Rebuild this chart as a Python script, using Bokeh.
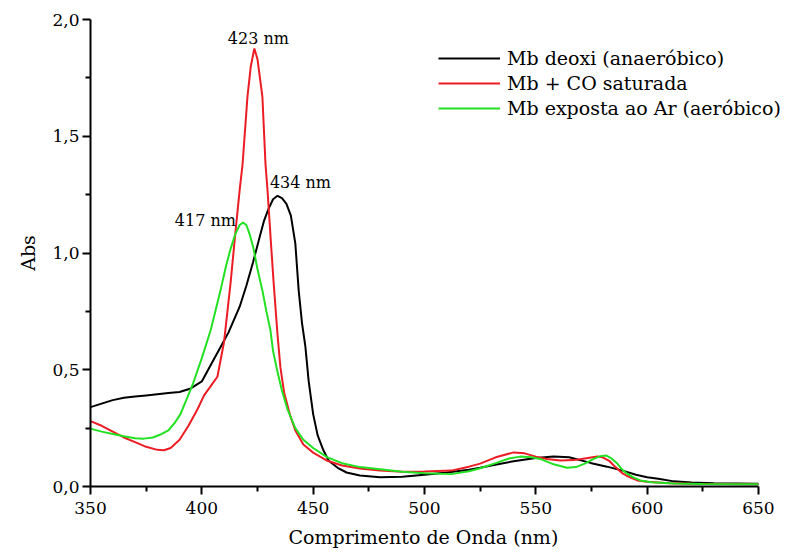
from bokeh.plotting import figure
from bokeh.models import FixedTicker, Legend, LegendItem, Label, Title
from bokeh.embed import file_html
from bokeh.resources import INLINE

# ---- data ----
wl_deoxi = [350, 355, 360, 365, 370, 375, 380, 385, 390, 395, 400, 404, 408, 412, 417, 420, 423, 426, 428, 430,
            432, 434, 436, 438, 440, 442, 443.5, 445, 446.5, 448, 450, 452, 454.6, 457, 461, 465, 471, 480, 490,
            500, 510, 520, 525, 530, 540, 550, 558, 565, 575, 582, 589, 595, 600, 605, 612, 620, 630, 640, 650]
abs_deoxi = [0.34, 0.355, 0.37, 0.38, 0.385, 0.39, 0.395, 0.40, 0.405, 0.42, 0.45, 0.52, 0.59, 0.66, 0.77, 0.86,
             0.96, 1.07, 1.14, 1.19, 1.23, 1.245, 1.235, 1.21, 1.16, 1.04, 0.84, 0.70, 0.60, 0.45, 0.31, 0.22,
             0.155, 0.11, 0.08, 0.06, 0.047, 0.04, 0.042, 0.05, 0.06, 0.072, 0.08, 0.09, 0.108, 0.122, 0.128,
             0.125, 0.10, 0.085, 0.068, 0.05, 0.04, 0.033, 0.022, 0.017, 0.014, 0.013, 0.012]

wl_co = [350, 355, 360, 365, 370, 375, 380, 383, 386, 390, 394, 398, 401, 404, 407, 410, 413, 415, 417, 418.3,
         420.5, 422, 423.6, 425, 427.2, 428.6, 429.5, 431, 432.2, 434, 435.3, 437, 439.8, 442, 445.6, 450, 456.4,
         463, 471, 480, 490, 500, 512, 520, 525, 532, 540, 545, 550, 555, 561, 567, 572, 577.6, 580, 583, 585,
         589, 591, 595.6, 600, 610, 620, 635, 650]
abs_co = [0.28, 0.26, 0.235, 0.21, 0.19, 0.17, 0.157, 0.155, 0.165, 0.20, 0.26, 0.33, 0.39, 0.43, 0.47, 0.62,
          0.88, 1.08, 1.27, 1.38, 1.67, 1.80, 1.876, 1.83, 1.67, 1.38, 1.27, 1.05, 0.88, 0.65, 0.51, 0.40, 0.30,
          0.24, 0.18, 0.145, 0.11, 0.09, 0.077, 0.068, 0.063, 0.064, 0.068, 0.085, 0.098, 0.125, 0.146, 0.142,
          0.128, 0.118, 0.111, 0.113, 0.12, 0.128, 0.125, 0.11, 0.09, 0.056, 0.045, 0.026, 0.02, 0.014, 0.012,
          0.011, 0.01]

wl_ar = [350, 355, 360, 365, 370, 374, 378, 382, 385, 388, 390.4, 393, 396, 400, 404, 408.4, 411, 413, 415, 417,
         418.5, 420, 421.5, 423.2, 425, 427.2, 429, 430.8, 432, 434, 436, 438.5, 442, 445.6, 450, 456.4, 463, 471,
         480, 490, 500, 512, 520, 525, 532, 538, 543, 548, 552, 558, 564, 568, 572, 576, 579, 581.5, 584, 586.6,
         589, 591, 594, 597, 602, 612, 625, 650]
abs_ar = [0.248, 0.235, 0.225, 0.215, 0.207, 0.205, 0.21, 0.225, 0.24, 0.275, 0.31, 0.37, 0.44, 0.55, 0.67, 0.84,
          0.95, 1.02, 1.08, 1.12, 1.13, 1.12, 1.08, 1.02, 0.93, 0.84, 0.75, 0.67, 0.58, 0.49, 0.41, 0.33, 0.25,
          0.20, 0.165, 0.125, 0.10, 0.083, 0.074, 0.063, 0.057, 0.053, 0.065, 0.078, 0.10, 0.12, 0.128, 0.125,
          0.118, 0.095, 0.08, 0.083, 0.098, 0.118, 0.13, 0.133, 0.12, 0.098, 0.07, 0.055, 0.038, 0.026, 0.018,
          0.013, 0.011, 0.01]

series_names = ["Mb deoxi (anaeróbico)", "Mb + CO saturada", "Mb exposta ao Ar (aeróbico)"]
series_colors = ["#000000", "#ec1c24", "#22e022"]

x_ticks = [350, 400, 450, 500, 550, 600, 650]
x_minor = [375, 425, 475, 525, 575, 625]
y_ticks = [0.0, 0.5, 1.0, 1.5, 2.0]
y_minor = [0.25, 0.75, 1.25, 1.75]
y_tick_labels = ["0,0", "0,5", "1,0", "1,5", "2,0"]

x_title = "Comprimento de Onda (nm)"
y_title = "Abs"

peak_texts = ["423 nm", "434 nm", "417 nm"]
peak_x = [425.4, 444.3, 401.6]
peak_y = [1.92, 1.30, 1.14]

FONT = "DejaVu Serif"

# frame extends to the right window edge; the x axis itself stops at 650
p = figure(width=788, height=556, x_range=(350, 663.5), y_range=(0, 2.0),
           output_backend="svg", toolbar_location=None,
           min_border_left=90, min_border_right=0, min_border_top=19, min_border_bottom=70)
p.outline_line_color = None
p.grid.visible = False
p.background_fill_color = "white"
p.border_fill_color = "white"

renderers = []
for wl, ab, c in zip([wl_deoxi, wl_co, wl_ar], [abs_deoxi, abs_co, abs_ar], series_colors):
    r = p.line(wl, ab, line_color=c, line_width=2)
    renderers.append(r)

for ax in (p.xaxis[0], p.yaxis[0]):
    ax.axis_line_width = 2
    ax.axis_line_color = "black"
    ax.major_tick_line_width = 2
    ax.minor_tick_line_width = 2
    ax.major_tick_out = 8
    ax.major_tick_in = 0
    ax.minor_tick_out = 5
    ax.minor_tick_in = 0
    ax.major_label_text_font = FONT
    ax.major_label_text_font_size = "17px"
    ax.major_label_text_color = "black"
    ax.axis_label_text_font = FONT
    ax.axis_label_text_font_size = "19px"
    ax.axis_label_text_font_style = "normal"
    ax.axis_label_text_color = "black"

p.xaxis[0].bounds = (350, 650)
p.xaxis[0].ticker = FixedTicker(ticks=x_ticks, minor_ticks=x_minor)
p.yaxis[0].ticker = FixedTicker(ticks=y_ticks, minor_ticks=y_minor)
p.yaxis[0].major_label_overrides = {t: s for t, s in zip(y_ticks, y_tick_labels)}
p.yaxis[0].axis_label = y_title
p.xaxis[0].major_label_standoff = 7
p.yaxis[0].major_label_standoff = 3
p.yaxis[0].axis_label_standoff = 10

# x-axis title centred under the 350–650 axis (not under the wider frame)
p.add_layout(Title(text=x_title, align="left", offset=198, text_font=FONT,
                   text_font_size="19px", text_font_style="normal", text_color="black",
                   standoff=14), "below")

for t, x, y in zip(peak_texts, peak_x, peak_y):
    p.add_layout(Label(x=x, y=y, text=t, text_font=FONT, text_font_size="16px",
                       text_align="center", text_baseline="middle", text_color="black"))

legend = Legend(items=[LegendItem(label=n, renderers=[r]) for n, r in zip(series_names, renderers)],
                location=(348, 367), padding=0, margin=0, spacing=3,
                glyph_width=62, glyph_height=22, label_height=22, label_standoff=7,
                label_text_font=FONT, label_text_font_size="19px", label_text_color="black",
                border_line_color=None, background_fill_alpha=0)
p.add_layout(legend, "center")

open("out.html", "w").write(file_html(p, INLINE))
